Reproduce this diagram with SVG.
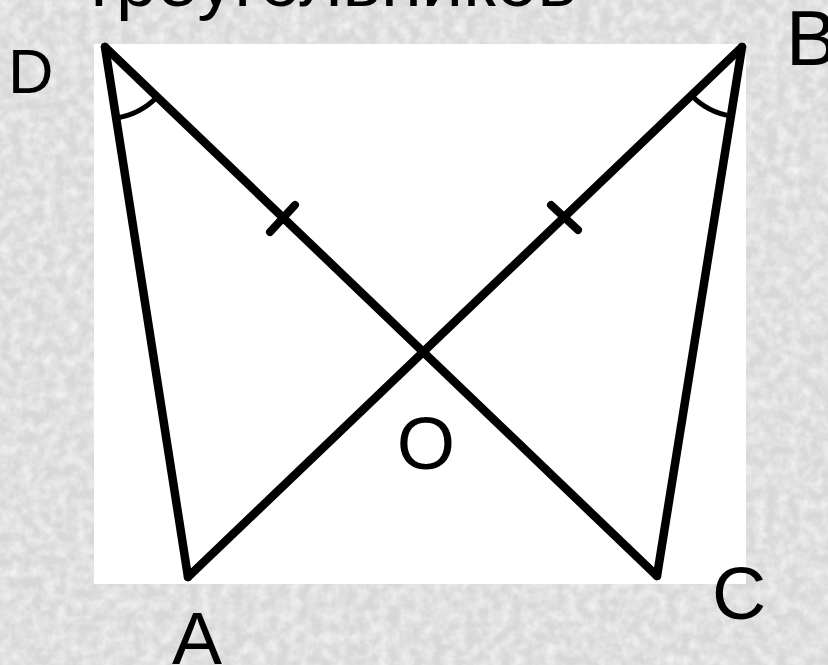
<svg xmlns="http://www.w3.org/2000/svg" width="828" height="665" viewBox="0 0 828 665">
  <defs>
    <filter id="tex" x="0" y="0" width="100%" height="100%">
      <feTurbulence type="fractalNoise" baseFrequency="0.09" numOctaves="3" seed="4" result="n"/>
      <feColorMatrix in="n" type="matrix" values="0 0 0 0 0.9  0 0 0 0 0.9  0 0 0 0 0.9  0 0 0 -1.6 1.1"/>
    </filter>
  </defs>
  <style>
    .lbl { font-family: "Liberation Sans", Arial, sans-serif; fill: #000; }
    .seg { stroke: #000; stroke-width: 8.5; stroke-linecap: round; stroke-linejoin: round; fill: none; }
    .arc { stroke: #000; stroke-width: 5; fill: none; }
    .tick { stroke: #000; stroke-width: 8; stroke-linecap: round; }
  </style>
  <rect width="828" height="665" fill="#d8d8d8"/>
  <rect width="828" height="665" fill="#f0f0f0" filter="url(#tex)"/>
  <text class="lbl" x="82" y="6" font-size="74">треугольников</text>
  <rect x="94" y="44" width="652" height="540" fill="#fff"/>
  <g id="connectors">
    <line class="seg" x1="105" y1="47" x2="188" y2="577"/>
    <line class="seg" x1="188" y1="577" x2="742" y2="47"/>
    <line class="seg" x1="742" y1="47" x2="657" y2="576"/>
    <line class="seg" x1="657" y1="576" x2="105" y2="47"/>
    <path class="arc" d="M116,118 A72,72 0 0 0 157,97"/>
    <path class="arc" d="M691.5,95.5 A70,70 0 0 0 731,116"/>
    <line class="tick" x1="270" y1="232" x2="295" y2="205"/>
    <line class="tick" x1="551" y1="205" x2="578" y2="230"/>
  </g>
  <g id="node-D"><text class="lbl" x="8" y="93" font-size="63">D</text></g>
  <g id="node-B"><text class="lbl" x="786" y="65" font-size="77">B</text></g>
  <g id="node-O"><text class="lbl" x="426" y="469" font-size="75" text-anchor="middle">O</text></g>
  <g id="node-A"><text class="lbl" x="197" y="664" font-size="75" text-anchor="middle">A</text></g>
  <g id="node-C"><text class="lbl" x="739" y="619" font-size="75" text-anchor="middle">C</text></g>
</svg>
